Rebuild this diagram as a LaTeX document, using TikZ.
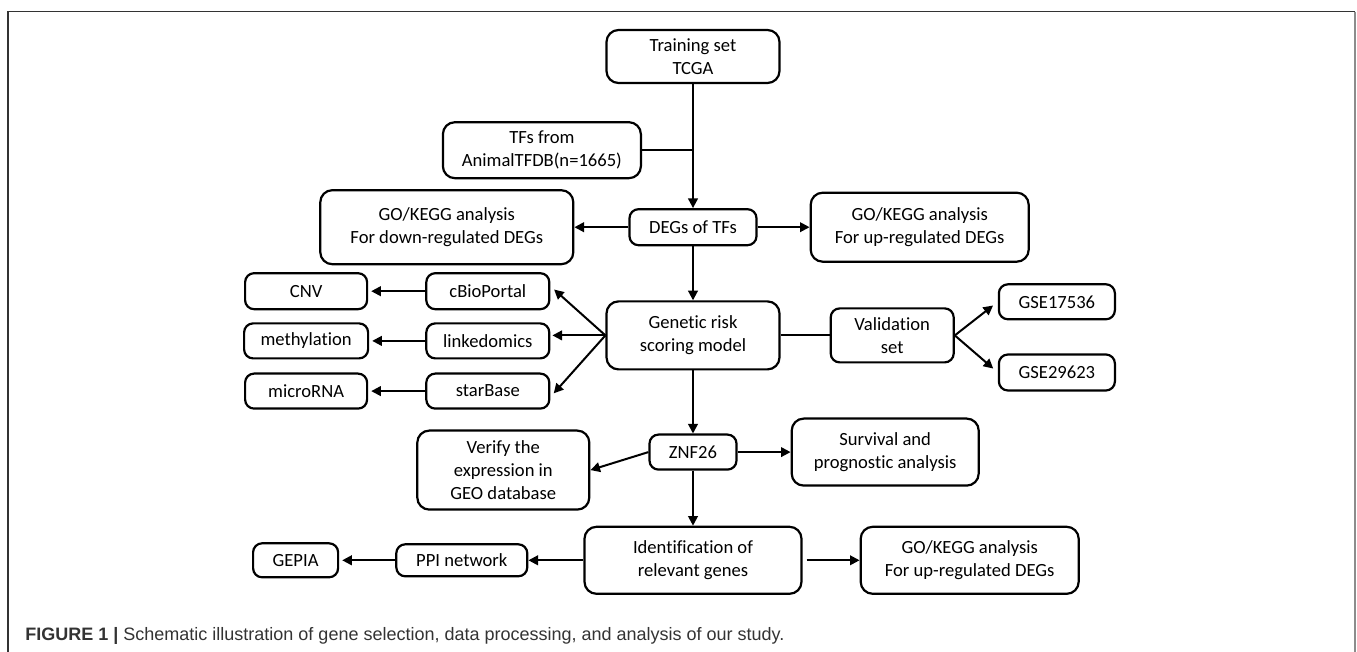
\documentclass[tikz,border=0pt]{standalone}
\usepackage{fontspec}
\setmainfont[Ligatures=NoCommon]{Carlito}
\newfontfamily\capfont{Liberation Sans}
\usetikzlibrary{positioning,arrows.meta}

\begin{document}
\begin{tikzpicture}[
        x=0.5pt, y=-0.5pt,
        box/.style={rectangle, draw, line width=1.1pt, rounded corners=4.5pt, align=center,
            inner sep=1pt, font=\fontsize{9.3}{11.6}\selectfont},
        big/.style={box, rounded corners=6pt},
        arr/.style={-{Triangle[length=4.8pt,width=4.8pt]}, line width=1pt},
        lin/.style={line width=1pt},
    ]

    % frame and size of the page
    \useasboundingbox (0,0) rectangle (1357,652);
    \draw[black!80, line width=0.8pt] (8,652) -- (8,11.7) -- (1355,11.7);
    \draw[black!45, line width=1.1pt] (1355,11.7) -- (1355,652);

    % ----- top: training set and TFs -----
    \node[big, minimum width=86.5pt, minimum height=26.5pt] (train) at (693,56.5) {Training set\\TCGA};
    \node[big, minimum width=99pt, minimum height=28pt, below left=18.5pt and 25.5pt of train.south] (tfs) {TFs from\\AnimalTFDB(n=1665)};
    \node[box, minimum width=63.5pt, minimum height=18pt, below=62pt of train] (degs) {DEGs of TFs};
    \node[big, minimum width=126.5pt, minimum height=37pt, left=27pt of degs] (godown) {GO/KEGG analysis\\For down-regulated DEGs};
    \node[big, minimum width=109pt, minimum height=34.5pt, right=26pt of degs] (goup) {GO/KEGG analysis\\For up-regulated DEGs};

    \draw[arr] (train) -- (degs);
    \draw[lin] (tfs.east) -- (tfs.east -| train.south);
    \draw[arr] (degs) -- (godown);
    \draw[arr] (degs) -- (goup);

    % ----- risk model -----
    \node[big, minimum width=86.5pt, minimum height=34pt, below=27pt of degs] (grsm) {Genetic risk\\scoring model};
    \node[box, minimum width=61.5pt, minimum height=17.5pt, left=27.5pt of grsm, yshift=-2.75pt] (linked) {linkedomics};
    \node[box, minimum width=61.5pt, minimum height=18pt, above=6pt of linked] (cbio) {cBioPortal};
    \node[box, minimum width=61.5pt, minimum height=17.5pt, below=6.5pt of linked] (starb) {starBase};
    \node[box, minimum width=62pt, minimum height=17.5pt, left=28pt of linked] (methyl) {methylation};
    \node[box, minimum width=61pt, minimum height=18pt, left=28.5pt of cbio] (cnv) {CNV};
    \node[box, minimum width=61pt, minimum height=17.5pt, left=28.5pt of starb] (micro) {microRNA};

    \draw[arr] (degs) -- (grsm);
    \draw[arr, shorten >=2.5pt] (grsm.west) -- ([yshift=2.5pt]cbio.east);
    \draw[arr, shorten >=1pt] (grsm.west) -- (grsm.west -| linked.east);
    \draw[arr, shorten >=2.5pt] (grsm.west) -- ([yshift=-3pt]starb.east);
    \draw[arr, shorten >=1.5pt] (cbio) -- (cnv);
    \draw[arr, shorten >=1.5pt] (linked) -- (methyl);
    \draw[arr, shorten >=1.5pt] (starb) -- (micro);

    % ----- validation -----
    \node[box, minimum width=61.5pt, minimum height=27pt, right=24.5pt of grsm] (val) {Validation\\set};
    \node[box, minimum width=58pt, minimum height=17.5pt, above right=7.5pt and 21.5pt of val.east] (gse1) {GSE17536};
    \node[box, minimum width=58pt, minimum height=18pt, below right=9pt and 21.5pt of val.east] (gse2) {GSE29623};

    \draw[lin] (grsm) -- (val);
    \draw[arr, shorten >=3pt] (val.east) -- (gse1.west);
    \draw[arr, shorten >=3pt] (val.east) -- (gse2.west);

    % ----- ZNF26 -----
    \node[box, minimum width=43.5pt, minimum height=17.5pt, below=31.5pt of grsm] (znf) {ZNF26};
    \node[big, minimum width=86pt, minimum height=39.5pt, left=29pt of znf, yshift=-9pt] (verify) {Verify the\\expression in\\GEO database};
    \node[big, minimum width=93.5pt, minimum height=33.5pt, right=26.5pt of znf] (surv) {Survival and\\prognostic analysis};

    \draw[arr] (grsm) -- (znf);
    \draw[arr] (znf.west) -- (verify.east);
    \draw[arr] (znf) -- (surv);

    % ----- relevant genes -----
    \node[big, minimum width=108.5pt, minimum height=33.5pt, below=27.5pt of znf] (ident) {Identification of\\relevant genes};
    \node[box, minimum width=65.5pt, minimum height=16pt, left=27.5pt of ident] (ppi) {PPI network};
    \node[box, minimum width=42.5pt, minimum height=17pt, left=28pt of ppi] (gepia) {GEPIA};
    \node[big, minimum width=109pt, minimum height=33.5pt, right=28.5pt of ident] (goup2) {GO/KEGG analysis\\For up-regulated DEGs};

    \draw[arr] (znf) -- (ident);
    \draw[arr] (ident) -- (ppi);
    \draw[arr, shorten >=1.5pt] (ppi) -- (gepia);
    \draw[arr, shorten <=2pt] (ident) -- (goup2);

    % caption
    \node[anchor=base west, inner sep=0pt, font=\capfont\fontsize{9}{11}\selectfont, text=black!80] (caption) at (25,640)
        {\textbf{FIGURE 1 |} Schematic illustration of gene selection, data processing, and analysis of our study.};
\end{tikzpicture}
\end{document}
